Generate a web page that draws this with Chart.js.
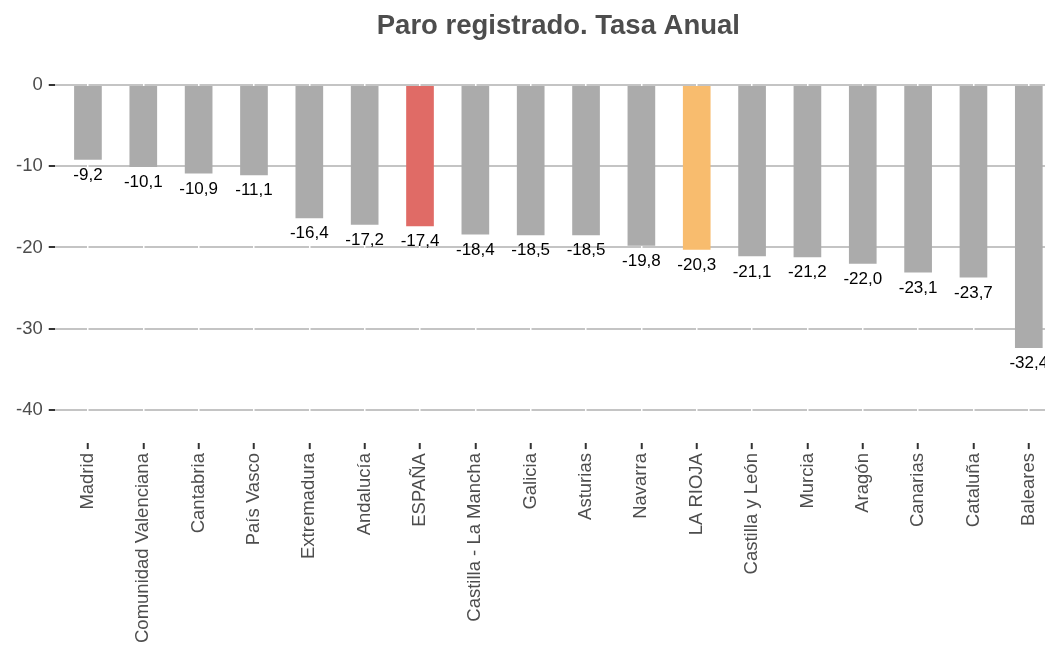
<!DOCTYPE html>
<html>
<head>
<meta charset="utf-8">
<script src="https://cdn.jsdelivr.net/npm/chart.js@4.4.1/dist/chart.umd.min.js"></script>
<style>
html, body { margin: 0; padding: 0; overflow: hidden; background: #ffffff; }
#c { display: block; }
</style>
</head>
<body>
<canvas id="c" width="1062" height="647"></canvas>
<script>
const categories = ["Madrid", "Comunidad Valenciana", "Cantabria", "País Vasco", "Extremadura", "Andalucía", "ESPAÑA", "Castilla - La Mancha", "Galicia", "Asturias", "Navarra", "LA RIOJA", "Castilla y León", "Murcia", "Aragón", "Canarias", "Cataluña", "Baleares"];
const values = [-9.2, -10.1, -10.9, -11.1, -16.4, -17.2, -17.4, -18.4, -18.5, -18.5, -19.8, -20.3, -21.1, -21.2, -22.0, -23.1, -23.7, -32.4];
const yTickValues = [0, -10, -20, -30, -40];
const titleText = "Paro registrado. Tasa Anual";

const FONT = "'Liberation Sans', Arial, sans-serif";
const highlight = { "ESPAÑA": "#e06b66", "LA RIOJA": "#f8bc6e" };
const barColors = categories.map(c => highlight[c] || "#ababab");
const fmt = v => v.toFixed(1).replace(".", ",");

const dataLabels = {
  id: "dataLabels",
  afterDatasetsDraw(chart) {
    const ctx = chart.ctx;
    const meta = chart.getDatasetMeta(0);
    ctx.save();
    ctx.font = "17px " + FONT;
    ctx.fillStyle = "#000000";
    ctx.textAlign = "center";
    ctx.textBaseline = "middle";
    meta.data.forEach((bar, i) => {
      ctx.fillText(fmt(values[i]), bar.x, bar.y + 15.5);
    });
    ctx.restore();
  }
};

new Chart(document.getElementById("c"), {
  type: "bar",
  data: {
    datasets: [{
      data: values.map((v, i) => ({ x: i, y: v })),
      backgroundColor: barColors,
      borderWidth: 0,
      barPercentage: 0.5,
      categoryPercentage: 1.0
    }]
  },
  options: {
    responsive: false,
    animation: false,
    layout: { padding: { left: 10, right: 0, top: 0, bottom: 0 } },
    plugins: {
      legend: { display: false },
      tooltip: { enabled: false },
      title: {
        display: true,
        text: titleText,
        fullSize: false,
        color: "#4d4d4d",
        font: { family: FONT, size: 27.5, weight: "bold" },
        padding: { top: 10, bottom: 25 }
      }
    },
    scales: {
      x: {
        type: "linear",
        offset: false,
        min: -0.6,
        max: 17.6,
        afterBuildTicks: s => { s.ticks = categories.map((_, i) => ({ value: i })); },
        ticks: {
          autoSkip: false,
          minRotation: 90,
          maxRotation: 90,
          padding: 4,
          color: "#4d4d4d",
          font: { family: FONT, size: 18.5 },
          callback: v => categories[v]
        },
        grid: {
          offset: false,
          z: 0,
          color: "#ffffff",
          lineWidth: 1.5,
          drawTicks: true,
          tickLength: 6,
          tickColor: "#333333",
          tickWidth: 2
        },
        border: { display: false }
      },
      y: {
        min: -44.1,
        max: 2.1,
        afterBuildTicks: s => { s.ticks = yTickValues.map(v => ({ value: v })); },
        ticks: {
          padding: 6,
          color: "#4d4d4d",
          font: { family: FONT, size: 18.5 },
          callback: v => String(v)
        },
        grid: {
          z: -1,
          color: "#c4c4c4",
          lineWidth: 2,
          tickLength: 6,
          tickColor: "#333333",
          tickWidth: 2
        },
        border: { display: false }
      }
    }
  },
  plugins: [dataLabels]
});
</script>
</body>
</html>
